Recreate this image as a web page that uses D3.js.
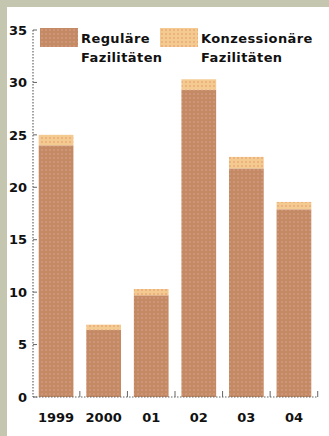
<!DOCTYPE html>
<html>
<head>
<meta charset="utf-8">
<script src="https://cdn.jsdelivr.net/npm/d3@7"></script>
<style>
  html, body { margin: 0; padding: 0; background: #c4c6b0; }
  svg { display: block; }
  text { font-family: "DejaVu Sans", "Liberation Sans", sans-serif; font-weight: bold; fill: #111; }
</style>
</head>
<body>
<script>
// Years on the x axis
const years = ["1999", "2000", "01", "02", "03", "04"];
// Regular facilities (bottom segment)
const regular = [24.0, 6.4, 9.7, 29.3, 21.8, 17.9];
// Concessional facilities (top segment)
const concessional = [1.0, 0.5, 0.6, 1.0, 1.1, 0.7];
// Y axis ticks
const yTicks = [0, 5, 10, 15, 20, 25, 30, 35];
// Legend entries
const legendLabels = [["Reguläre", "Fazilitäten"], ["Konzessionäre", "Fazilitäten"]];

const W = 329, H = 436;
const svg = d3.select("body").append("svg").attr("width", W).attr("height", H);

// Pattern fills giving the dotted print texture
const defs = svg.append("defs");
function dotted(id, base, dot) {
  const p = defs.append("pattern").attr("id", id).attr("patternUnits", "userSpaceOnUse")
    .attr("width", 4).attr("height", 4);
  p.append("rect").attr("width", 4).attr("height", 4).attr("fill", base);
  p.append("circle").attr("cx", 2).attr("cy", 2).attr("r", 0.9).attr("fill", dot);
}
dotted("pReg", "#c48a63", "#d39a86");
dotted("pCon", "#f3cb90", "#eaa676");

// White panel inside the frame
svg.append("rect").attr("x", 7).attr("y", 7).attr("width", W - 7).attr("height", H - 7).attr("fill", "#ffffff");

const x0 = 33, x1 = 317, yBase = 397, yTop = 30;
const x = d3.scaleBand().domain(years).range([x0, x1]).paddingInner(0.27).paddingOuter(0.12);
const y = d3.scaleLinear().domain([0, 35]).range([yBase, yTop]);

// Bars: regular segment then concessional on top
const g = svg.append("g");
g.selectAll("rect.reg").data(years).join("rect")
  .attr("x", d => x(d)).attr("width", x.bandwidth())
  .attr("y", (d, i) => y(regular[i])).attr("height", (d, i) => y(0) - y(regular[i]))
  .attr("fill", "url(#pReg)");
g.selectAll("rect.con").data(years).join("rect")
  .attr("x", d => x(d)).attr("width", x.bandwidth())
  .attr("y", (d, i) => y(regular[i] + concessional[i]))
  .attr("height", (d, i) => y(regular[i]) - y(regular[i] + concessional[i]))
  .attr("fill", "url(#pCon)");

// Y axis
const yAxis = svg.append("g");
yAxis.append("line").attr("x1", x0).attr("x2", x0).attr("y1", yTop).attr("y2", yBase)
  .attr("stroke", "#666").attr("stroke-width", 1.2).attr("stroke-dasharray", "1.5,1.5");
yAxis.selectAll("line.t").data(yTicks).join("line")
  .attr("x1", x0).attr("x2", x0 + 4).attr("y1", d => y(d)).attr("y2", d => y(d))
  .attr("stroke", "#666").attr("stroke-width", 1);
yAxis.selectAll("text").data(yTicks).join("text")
  .attr("x", 27).attr("y", d => y(d)).attr("dy", "0.36em").attr("text-anchor", "end")
  .attr("font-size", 13).text(d => d);

// X axis baseline and separators between bars
const step = x.step();
const seps = years.map(d => x(d) + x.bandwidth() + (step - x.bandwidth()) / 2);
svg.append("line").attr("x1", x0).attr("x2", x1).attr("y1", yBase).attr("y2", yBase)
  .attr("stroke", "#666").attr("stroke-width", 1.2).attr("stroke-dasharray", "1.5,1.5");
svg.selectAll("line.sep").data(seps).join("line")
  .attr("x1", d => d).attr("x2", d => d).attr("y1", yBase - 6).attr("y2", yBase)
  .attr("stroke", "#666").attr("stroke-width", 1);
svg.selectAll("text.xl").data(years).join("text")
  .attr("x", d => x(d) + x.bandwidth() / 2).attr("y", 422).attr("text-anchor", "middle")
  .attr("font-size", 13).text(d => d);

// Legend
const legendX = [40, 160];
const fills = ["url(#pReg)", "url(#pCon)"];
legendLabels.forEach((lines, i) => {
  const lg = svg.append("g").attr("transform", `translate(${legendX[i]},28)`);
  lg.append("rect").attr("width", 38).attr("height", 19).attr("fill", fills[i]);
  lines.forEach((t, j) => {
    lg.append("text").attr("x", 41).attr("y", 15 + j * 19)
      .attr("font-size", 13).attr("letter-spacing", 0.4).text(t);
  });
});
</script>
</body>
</html>
